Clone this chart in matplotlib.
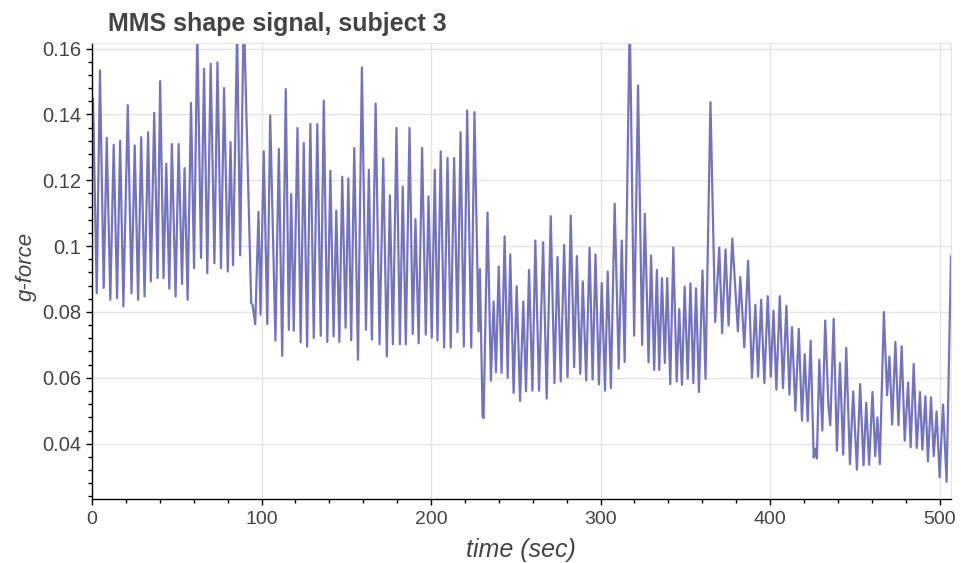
import matplotlib.pyplot as plt
from matplotlib.ticker import MultipleLocator, FuncFormatter

# MMS shape signal, subject 3 - peaks/troughs
# time (sec)
t_sec = [
    0.0, 0.6, 2.8, 4.7, 6.9, 8.7, 10.8, 12.8, 14.8, 16.6, 18.5, 21.1, 23.3, 25.2, 27.2, 29.0,
    31.0, 33.1, 34.7, 36.7, 38.7, 40.2, 42.2, 43.8, 45.6, 47.1, 49.3, 51.1, 53.1, 54.6, 56.4,
    58.4, 60.2, 62.1, 64.3, 66.1, 68.0, 70.0, 72.2, 74.0, 76.1, 77.9, 80.1, 81.7, 83.2, 85.6,
    87.4, 89.5, 93.9, 94.7, 96.3, 98.2, 99.4, 101.3, 103.4,
    105.1, 108.2, 110.2, 112.2, 114.3, 116.1, 117.5, 119.0, 121.2, 123.1, 124.9, 126.9, 128.8,
    130.8, 132.9, 134.9, 136.7, 138.8, 140.6, 142.5, 144.1, 145.9, 147.6, 149.6, 151.2, 152.9,
    154.7, 156.9, 159.2, 161.6, 163.3, 165.1, 167.3, 169.6, 171.8, 173.9, 175.7, 177.5, 179.6,
    181.6, 183.3, 185.1, 187.3, 189.2, 190.8, 192.7, 194.7, 196.9, 198.5, 200.4,
    202.2, 203.8, 205.7, 207.7, 209.7, 211.6, 213.6, 215.6, 217.4, 219.3, 221.3, 223.7, 225.6,
    228.0, 228.8, 230.4, 231.0, 233.3, 235.3, 236.9, 238.3, 239.9, 241.6, 243.4, 245.2, 246.7,
    248.7, 250.5, 252.5, 254.4, 256.0, 257.8, 259.8, 261.5, 263.7, 266.1, 268.2, 270.6, 272.8,
    274.6, 276.5, 278.5, 280.5, 282.4, 284.4, 286.0, 288.0, 289.5, 291.5, 293.5, 295.3, 297.0,
    299.0, 300.7, 302.6, 304.2, 306.1,
    308.3, 310.7, 312.5, 314.2, 317.2, 319.8, 322.1, 324.5, 326.1, 328.3, 329.8, 331.6, 333.2,
    334.6, 336.2, 337.9, 339.3, 341.1, 342.9, 344.9, 346.4, 348.0, 349.6, 351.4, 353.0, 354.7,
    356.3, 358.0, 360.1, 361.9, 364.8, 367.6, 370.0, 371.7, 373.7, 375.5, 377.7, 381.0, 382.4,
    384.8, 387.0, 389.3, 391.3, 392.9, 394.7, 396.6, 398.6, 400.4,
    402.0, 403.7, 405.7, 407.6, 409.6, 411.4, 412.9, 414.9, 416.9, 418.8, 420.4, 422.2, 423.9,
    425.7, 426.7, 427.6, 429.0, 430.8, 432.5, 434.4, 435.5, 437.5, 439.4, 441.2, 443.1, 444.9,
    447.1, 449.0, 451.2, 453.1, 455.1, 456.7, 458.4, 460.4, 462.0, 463.3, 464.7, 467.1, 469.0,
    470.4, 472.0, 473.9, 475.7, 477.6, 479.4, 481.4, 482.9, 484.7, 486.5, 488.4, 489.8, 491.6,
    493.1, 494.9, 496.5, 498.2, 500.0, 502.0, 504.1, 506.7,
]
# g-force
g_force = [
    0.142, 0.1448, 0.0857, 0.1534, 0.0873, 0.1329, 0.0837, 0.1308, 0.0842, 0.1320, 0.0817,
    0.1428, 0.0857, 0.1306, 0.0837, 0.1331, 0.0847, 0.1346, 0.0893, 0.1405, 0.0903, 0.1501,
    0.0903, 0.1250, 0.0871, 0.1310, 0.0847, 0.1310, 0.0885, 0.1237, 0.0837, 0.1435, 0.0933,
    0.166, 0.0964, 0.1539, 0.0918, 0.1554, 0.0948, 0.1558, 0.0933, 0.1480, 0.0923, 0.1316,
    0.0942, 0.166, 0.0972, 0.172, 0.0827, 0.0822, 0.0763, 0.1104, 0.0792, 0.1288, 0.0763,
    0.1397, 0.0713, 0.1295, 0.0667, 0.1477, 0.0746, 0.1158, 0.0743, 0.1359, 0.0708, 0.1313,
    0.0695, 0.1371, 0.0721, 0.1371, 0.0728, 0.1442, 0.0709, 0.1229, 0.0726, 0.1108, 0.0709,
    0.1211, 0.0752, 0.1206, 0.0714, 0.1298, 0.0655, 0.1543, 0.0746, 0.1232, 0.0716, 0.1433,
    0.0702, 0.1266, 0.0665, 0.1154, 0.0702, 0.1359, 0.0702, 0.1181, 0.0702, 0.1359, 0.0733,
    0.1082, 0.0705, 0.1298, 0.0731, 0.1151, 0.0722,
    0.1232, 0.0713, 0.1288, 0.0692, 0.1268, 0.0692, 0.1268, 0.0739, 0.1346, 0.0695, 0.1412,
    0.0692, 0.1407, 0.0741, 0.0930, 0.0482, 0.0478, 0.1102, 0.0591, 0.0832, 0.0617, 0.0938,
    0.0615, 0.1030, 0.0600, 0.0975, 0.0554, 0.0878, 0.0530, 0.0832, 0.0559, 0.0928, 0.0561,
    0.1017, 0.0561, 0.1012, 0.0537, 0.1091, 0.0584, 0.0967, 0.0589, 0.1004, 0.0602, 0.1093,
    0.0632, 0.0970, 0.0612, 0.0893, 0.0592, 0.0995, 0.0595, 0.0975, 0.0580, 0.0888, 0.0561,
    0.0923, 0.0569,
    0.1129, 0.0628, 0.1017, 0.0648, 0.170, 0.0728, 0.1488, 0.0700, 0.1098, 0.0647, 0.0972,
    0.0624, 0.0928, 0.0624, 0.0903, 0.0645, 0.0903, 0.0581, 0.0996, 0.0589, 0.0809, 0.0579,
    0.0877, 0.0597, 0.0887, 0.0584, 0.0872, 0.0557, 0.0926, 0.0597, 0.1437, 0.0769, 0.0996,
    0.0736, 0.0990, 0.0759, 0.1023, 0.0741, 0.0906, 0.0692, 0.0956, 0.0600, 0.0822, 0.0604,
    0.0837, 0.0584, 0.0848, 0.0604,
    0.0804, 0.0564, 0.0848, 0.0569, 0.0819, 0.0549, 0.0754, 0.0500, 0.0749, 0.0470, 0.0672,
    0.0468, 0.0713, 0.0358, 0.0385, 0.0355, 0.0655, 0.0440, 0.0774, 0.0514, 0.0456, 0.0779,
    0.0379, 0.0645, 0.0367, 0.0691, 0.0338, 0.0559, 0.0321, 0.0581, 0.0334, 0.0524, 0.0336,
    0.0557, 0.0362, 0.0480, 0.0338, 0.0800, 0.0547, 0.0665, 0.0458, 0.0709, 0.0456, 0.0696,
    0.0409, 0.0586, 0.0389, 0.0642, 0.0387, 0.0557, 0.0382, 0.0544, 0.0346, 0.0541, 0.0362,
    0.0498, 0.0298, 0.0519, 0.0284, 0.0969,
]

plt.rcParams['font.family'] = ['Liberation Sans', 'DejaVu Sans']
txt = '#444444'
grid = '#e5e5e5'

fig = plt.figure(figsize=(9.62, 5.63), dpi=100)
# plot frame in pixels: left 92, right 951, top 43, bottom 499
ax = fig.add_axes([92 / 962, 1 - 499 / 563, (951 - 92) / 962, (499 - 43) / 563])

ax.plot(t_sec, g_force, color='#7474bc', lw=1.6, solid_joinstyle='round')

ax.set_xlim(0, 506.7)
ax.set_ylim(0.0232, 0.1617)

ax.xaxis.set_major_locator(MultipleLocator(100))
ax.xaxis.set_minor_locator(MultipleLocator(20))
ax.yaxis.set_major_locator(MultipleLocator(0.02))
ax.yaxis.set_minor_locator(MultipleLocator(0.004))
ax.yaxis.set_major_formatter(FuncFormatter(lambda v, p: '%g' % round(v, 4)))

ax.grid(True, which='major', color=grid, lw=1)
ax.set_axisbelow(True)
ax.tick_params(which='major', direction='out', length=4.5, width=1, color='black',
               labelsize=14.5, labelcolor=txt, pad=3)
ax.tick_params(axis='x', which='major', labelsize=14, pad=4)
ax.tick_params(which='minor', direction='out', length=3, width=1, color='black')
for s in ['top', 'right']:
    ax.spines[s].set_color(grid)
for s in ['left', 'bottom']:
    ax.spines[s].set_color('black')
    ax.spines[s].set_linewidth(1)

fig.text(521 / 962, 1 - 550 / 563, 'time (sec)', fontsize=18, style='italic',
         color=txt, ha='center', va='center')
fig.text(26 / 962, 1 - 266 / 563, 'g-force', fontsize=16, style='italic',
         color=txt, ha='center', va='center', rotation=90)

fig.text(108 / 962, 1 - 24 / 563, 'MMS shape signal, subject 3', fontsize=18,
         fontweight='bold', color=txt, va='center', ha='left')

fig.savefig('out.png', dpi=100)
